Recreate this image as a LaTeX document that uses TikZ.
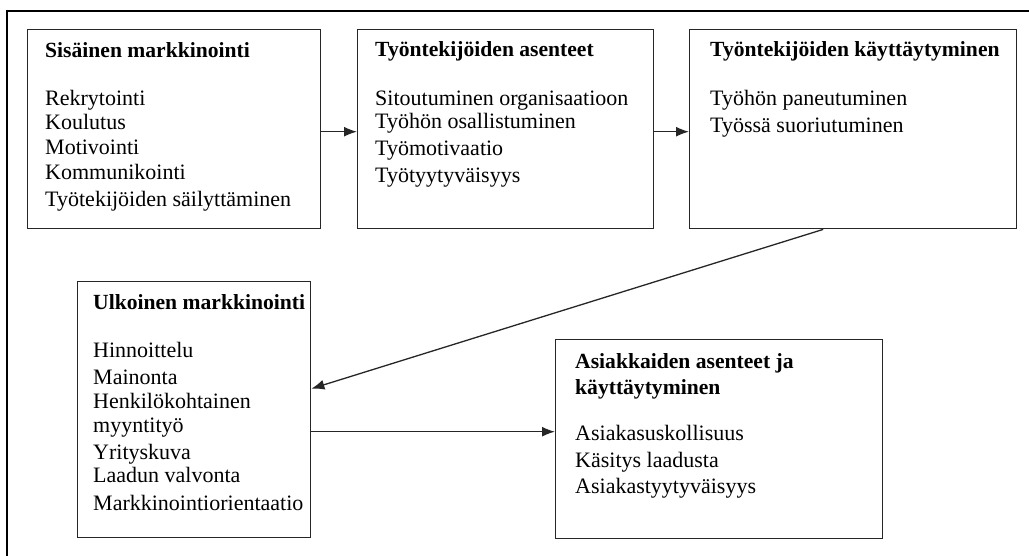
\documentclass[tikz,border=0pt]{standalone}
\usepackage{fontspec}
\setmainfont{Liberation Serif}
\usetikzlibrary{arrows.meta}
\begin{document}
\begin{tikzpicture}[x=1pt,y=-1pt,
  box/.style={draw=black!85, line width=1.4pt, inner sep=0pt, anchor=north west},
  txt/.style={anchor=base west, inner sep=0pt, font=\fontsize{22}{25}\selectfont},
  head/.style={txt, font=\fontsize{21.6}{25}\selectfont\bfseries},
  conn/.style={draw=black!85, line width=1.3pt, -{Latex[length=13pt,width=10pt]}}]
\useasboundingbox (0,0) rectangle (1029,556);

% clipped outer frame: only the top and left edges show
\draw[line width=2pt, black] (1040,11) -- (7,11) -- (7,570);

% boxes
\node[box, minimum width=293pt, minimum height=199pt] (b1) at (27,29) {};
\node[box, minimum width=296pt, minimum height=199pt] (b2) at (357,29) {};
\node[box, minimum width=327pt, minimum height=199pt] (b3) at (689,29) {};
\node[box, minimum width=233pt, minimum height=256pt] (b4) at (77,281) {};
\node[box, minimum width=327pt, minimum height=199pt] (b5) at (555,339) {};

% box 1
\node[head] (b1h) at (45,58) {Sisäinen markkinointi};
\node[txt] (b1a) at (45,106) {Rekrytointi};
\node[txt] (b1b) at (45,130) {Koulutus};
\node[txt] (b1c) at (45,155) {Motivointi};
\node[txt] (b1d) at (45,180) {Kommunikointi};
\node[txt] (b1e) at (45,207) {Työtekijöiden säilyttäminen};

% box 2
\node[head] (b2h) at (375,57) {Työntekijöiden asenteet};
\node[txt] (b2a) at (375,106) {Sitoutuminen organisaatioon};
\node[txt] (b2b) at (375,129) {Työhön osallistuminen};
\node[txt] (b2c) at (375,156) {Työmotivaatio};
\node[txt] (b2d) at (375,183) {Työtyytyväisyys};

% box 3
\node[head] (b3h) at (710,57) {Työntekijöiden käyttäytyminen};
\node[txt] (b3a) at (710,106) {Työhön paneutuminen};
\node[txt] (b3b) at (710,133) {Työssä suoriutuminen};

% box 4
\node[head] (b4h) at (93,310) {Ulkoinen markkinointi};
\node[txt] (b4a) at (93,358) {Hinnoittelu};
\node[txt] (b4b) at (93,384) {Mainonta};
\node[txt] (b4c) at (93,408) {Henkilökohtainen};
\node[txt] (b4d) at (93,432) {myyntityö};
\node[txt] (b4e) at (93,459) {Yrityskuva};
\node[txt] (b4f) at (93,482) {Laadun valvonta};
\node[txt] (b4g) at (93,510) {Markkinointiorientaatio};

% box 5
\node[head] (b5h) at (575,368) {Asiakkaiden asenteet ja};
\node[head] (b5i) at (575,394) {käyttäytyminen};
\node[txt] (b5a) at (575,440) {Asiakasuskollisuus};
\node[txt] (b5b) at (575,467) {Käsitys laadusta};
\node[txt] (b5c) at (575,493) {Asiakastyytyväisyys};

% connectors
\draw[conn] ([yshift=-2.5pt]b1.east) -- ([yshift=-2.5pt]b2.west);
\draw[conn] ([yshift=-2.5pt]b2.east) -- ([yshift=-2.5pt]b3.west);
\draw[conn] ([xshift=-30pt]b3.south) -- ([yshift=21pt]b4.east);
\draw[conn] ([yshift=-22pt]b4.east) -- ([yshift=7.5pt]b5.west);
\end{tikzpicture}
\end{document}
